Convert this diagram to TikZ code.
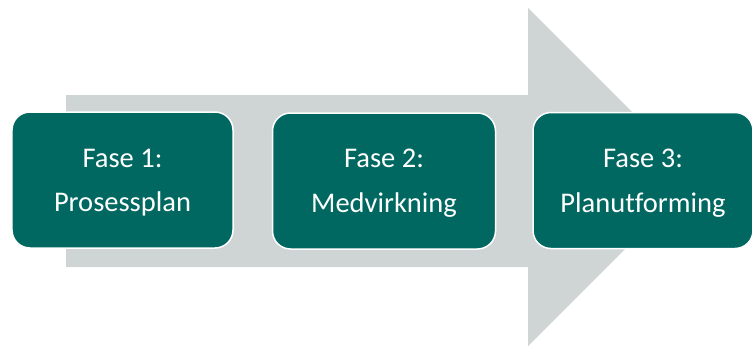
\documentclass[tikz,border=0pt]{standalone}
\usepackage{fontspec}
\setmainfont{Carlito}[Ligatures=NoCommon]
\definecolor{teal}{RGB}{0,104,96}
\definecolor{arrowgray}{RGB}{206,213,212}
\tikzset{
  phase/.style={rectangle, rounded corners=18bp, fill=teal, draw=white, line width=1.5bp, inner sep=0pt},
  lbl/.style={text=white, font=\fontsize{28.5bp}{34bp}\selectfont, inner sep=0pt, anchor=base}
}
\begin{document}
\begin{tikzpicture}[x=1bp,y=-1bp]
\useasboundingbox (0,0) rectangle (752,350);
\fill[arrowgray] (66,95) -- (528,95) -- (528,8) -- (697,177) -- (528,346) -- (528,267) -- (66,267) -- cycle;
\node[phase, minimum width=221bp, minimum height=136bp] (p1) at (122.5,180) {};
\node[phase, minimum width=223bp, minimum height=136bp] (p2) at (384,181) {};
\node[phase, minimum width=220bp, minimum height=136bp] (p3) at (643,180.5) {};
\node[lbl] (f1) at (122.5,167) {Fase 1:};
\node[lbl] (n1) at (122.5,211.5) {Prosessplan};
\node[lbl] (f2) at (384,167.5) {Fase 2:};
\node[lbl] (n2) at (384,212) {Medvirkning};
\node[lbl] (f3) at (643,167.5) {Fase 3:};
\node[lbl] (n3) at (643,212) {Planutforming};
\end{tikzpicture}
\end{document}
